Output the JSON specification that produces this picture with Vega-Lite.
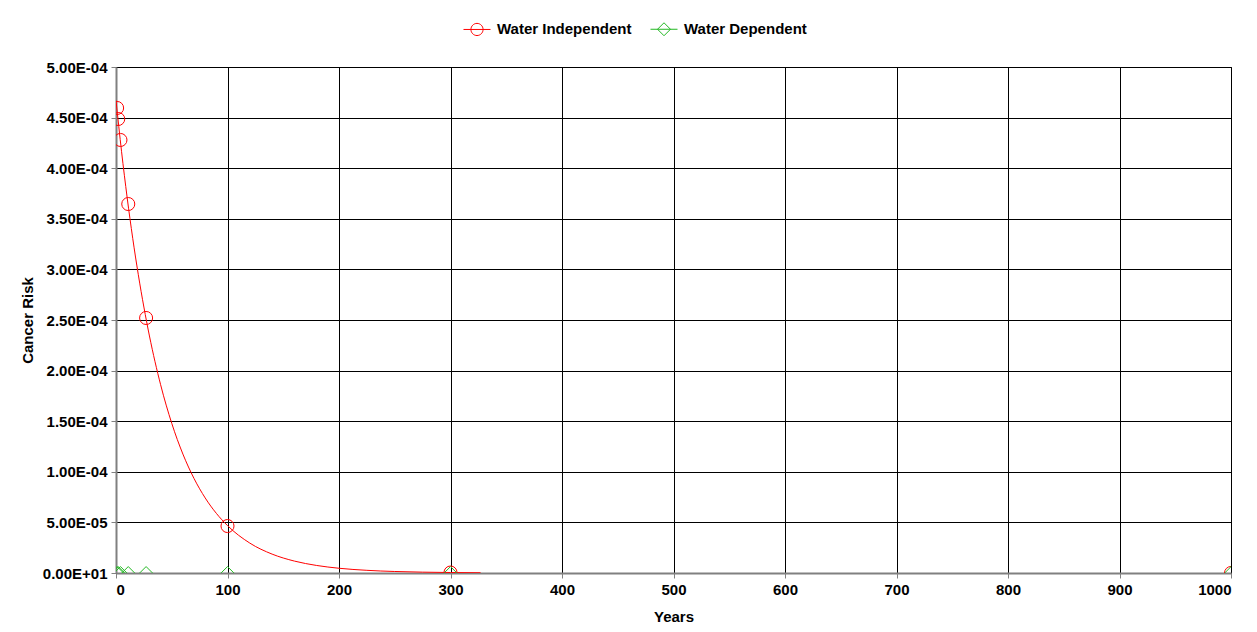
{
  "$schema": "https://vega.github.io/schema/vega-lite/v6.json",
  "autosize": {"type": "none"},
  "width": 1115,
  "height": 506,
  "padding": {"left": 116, "top": 67, "right": 26, "bottom": 59},
  "background": "white",
  "config": {
    "font": "Liberation Sans",
    "view": {"stroke": "black", "strokeWidth": 1},
    "axis": {
      "labelFont": "Liberation Sans",
      "labelFontWeight": "bold",
      "labelFontSize": 15,
      "labelColor": "black",
      "titleFont": "Liberation Sans",
      "titleFontWeight": "bold",
      "titleFontSize": 15,
      "titleColor": "black",
      "gridColor": "black",
      "gridWidth": 1,
      "gridOpacity": 1,
      "domainColor": "#808080",
      "domainWidth": 2,
      "tickColor": "#808080",
      "tickSize": 5,
      "tickWidth": 1
    }
  },
  "datasets": {
    "curve": [
      {"years": 0, "risk": 4.670e-4},
      {"years": 5, "risk": 4.163e-4},
      {"years": 10, "risk": 3.710e-4},
      {"years": 15, "risk": 3.307e-4},
      {"years": 20, "risk": 2.948e-4},
      {"years": 25, "risk": 2.628e-4},
      {"years": 30, "risk": 2.342e-4},
      {"years": 40, "risk": 1.861e-4},
      {"years": 50, "risk": 1.479e-4},
      {"years": 60, "risk": 1.175e-4},
      {"years": 70, "risk": 9.335e-5},
      {"years": 80, "risk": 7.416e-5},
      {"years": 90, "risk": 5.894e-5},
      {"years": 100, "risk": 4.684e-5},
      {"years": 120, "risk": 2.956e-5},
      {"years": 140, "risk": 1.866e-5},
      {"years": 160, "risk": 1.178e-5},
      {"years": 180, "risk": 7.43e-6},
      {"years": 200, "risk": 4.69e-6},
      {"years": 225, "risk": 2.64e-6},
      {"years": 250, "risk": 1.487e-6},
      {"years": 275, "risk": 8.37e-7},
      {"years": 300, "risk": 4.71e-7},
      {"years": 327, "risk": 2.53e-7}
    ],
    "markers": [
      {"years": 1, "risk": 4.595e-4, "series": "Water Independent"},
      {"years": 2, "risk": 4.486e-4, "series": "Water Independent"},
      {"years": 4, "risk": 4.279e-4, "series": "Water Independent"},
      {"years": 11, "risk": 3.646e-4, "series": "Water Independent"},
      {"years": 27, "risk": 2.52e-4, "series": "Water Independent"},
      {"years": 100, "risk": 4.64e-5, "series": "Water Independent"},
      {"years": 300, "risk": 4.7e-7, "series": "Water Independent"},
      {"years": 1000, "risk": 1e-9, "series": "Water Independent"},
      {"years": 1, "risk": 1e-7, "series": "Water Dependent"},
      {"years": 2, "risk": 1e-7, "series": "Water Dependent"},
      {"years": 4, "risk": 1e-7, "series": "Water Dependent"},
      {"years": 11, "risk": 1e-7, "series": "Water Dependent"},
      {"years": 27, "risk": 1e-7, "series": "Water Dependent"},
      {"years": 100, "risk": 1e-7, "series": "Water Dependent"},
      {"years": 300, "risk": 1e-7, "series": "Water Dependent"},
      {"years": 1000, "risk": 1e-9, "series": "Water Dependent"}
    ]
  },
  "encoding": {
    "x": {
      "field": "years",
      "type": "quantitative",
      "scale": {"domain": [0, 1000], "nice": false},
      "axis": {
        "title": "Years",
        "format": "d",
        "values": [0, 100, 200, 300, 400, 500, 600, 700, 800, 900, 1000],
        "labelPadding": 4,
        "titlePadding": 12
      }
    },
    "y": {
      "field": "risk",
      "type": "quantitative",
      "scale": {"domain": [0, 0.0005], "nice": false},
      "axis": {
        "title": "Cancer Risk",
        "values": [0, 0.00005, 0.0001, 0.00015, 0.0002, 0.00025, 0.0003, 0.00035, 0.0004, 0.00045, 0.0005],
        "labelExpr": "datum.value == 0 ? '0.00E+01' : replace(format(datum.value, '.2e'), 'e-', 'E-0')",
        "labelPadding": 4,
        "titlePadding": 7
      }
    }
  },
  "layer": [
    {
      "data": {"name": "curve"},
      "mark": {"type": "line", "color": "#ff0000", "strokeWidth": 1, "interpolate": "monotone", "clip": true}
    },
    {
      "data": {"name": "markers"},
      "transform": [{"filter": "datum.series == 'Water Independent'"}],
      "mark": {"type": "point", "shape": "circle", "filled": false, "color": "#ff0000", "strokeWidth": 1, "size": 170, "opacity": 1, "clip": true}
    },
    {
      "data": {"name": "markers"},
      "transform": [{"filter": "datum.series == 'Water Dependent'"}],
      "mark": {"type": "point", "shape": "diamond", "filled": false, "color": "#22b822", "strokeWidth": 1, "size": 160, "opacity": 1, "clip": true}
    },
    {
      "data": {"name": "markers"},
      "mark": {"type": "point", "filled": false, "strokeWidth": 1, "size": 170, "opacity": 0, "clip": true},
      "encoding": {
        "color": {
          "field": "series",
          "type": "nominal",
          "scale": {"domain": ["Water Independent", "Water Dependent"], "range": ["#ff0000", "#22b822"]},
          "legend": {
            "title": null,
            "orient": "none",
            "direction": "horizontal",
            "legendX": 347,
            "legendY": -52,
            "labelFont": "Liberation Sans",
            "labelFontWeight": "bold",
            "labelFontSize": 15,
            "labelColor": "black",
            "labelOffset": 6,
            "columnPadding": 16,
            "symbolSize": 729,
            "symbolStrokeWidth": 1,
            "symbolOpacity": 1,
            "symbolFillColor": "transparent"
          }
        },
        "shape": {
          "field": "series",
          "type": "nominal",
          "scale": {
            "domain": ["Water Independent", "Water Dependent"],
            "range": [
              "M-1,0L1,0M-0.45,0A0.45,0.45,0,1,0,0.45,0A0.45,0.45,0,1,0,-0.45,0",
              "M-1,0L1,0M-0.48,0L0,-0.48L0.48,0L0,0.48Z"
            ]
          }
        }
      }
    }
  ]
}
